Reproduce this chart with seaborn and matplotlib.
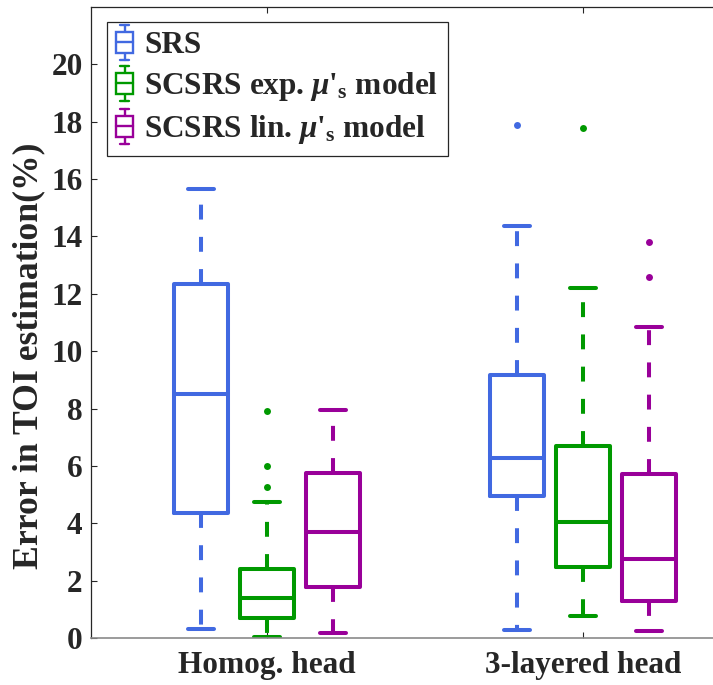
import matplotlib
matplotlib.use("Agg")
import matplotlib.pyplot as plt
import seaborn as sns
from matplotlib.legend_handler import HandlerBase
from matplotlib.lines import Line2D
from matplotlib.patches import Rectangle

# ---- data: summary statistics of the TOI estimation error (%) ----
groups = ["Homog. head", "3-layered head"]
methods = ["SRS",
           r"SCSRS exp. $\mu$'$_{\mathbf{s}}$ model",
           r"SCSRS lin. $\mu$'$_{\mathbf{s}}$ model"]
colors = ["#4169E1", "#009900", "#990099"]

# rows = head model, columns = method (SRS, exp., lin.)
whisker_low = [[0.33, 0.02, 0.19], [0.27, 0.77, 0.23]]
quartile_1 = [[4.37, 0.68, 1.78], [4.96, 2.49, 1.29]]
median = [[8.52, 1.38, 3.70], [6.28, 4.06, 2.74]]
quartile_3 = [[12.33, 2.42, 5.74], [9.18, 6.70, 5.72]]
whisker_high = [[15.67, 4.73, 7.95], [14.35, 12.21, 10.83]]
outliers = [[[], [5.27, 6.01, 7.93], []],
            [[17.88], [17.78], [12.60, 13.79]]]

yticks = [0, 2, 4, 6, 8, 10, 12, 14, 16, 18, 20]

# ---- style ----
sns.set_theme(style="ticks")
plt.rcParams["font.family"] = ["Liberation Serif", "DejaVu Serif"]
plt.rcParams["font.weight"] = "bold"
plt.rcParams["mathtext.fontset"] = "custom"
plt.rcParams["mathtext.rm"] = "Liberation Serif:bold"
plt.rcParams["mathtext.bf"] = "Liberation Serif:bold"
plt.rcParams["mathtext.it"] = "Liberation Serif:italic:bold"

FS = 22.5
INK = "#262626"
LW = 2.9

fig = plt.figure(figsize=(7.13, 6.85), dpi=100)
ax = fig.add_axes([91 / 713, 47 / 685, 622 / 713, 631 / 685])

offsets = [-0.209, 0.0, 0.209]
box_w = 0.171
cap_w = 0.082
dash = (0, (3.7, 4.3))

for g in range(len(groups)):
    for m in range(len(methods)):
        c = colors[m]
        stats = [dict(whislo=whisker_low[g][m], q1=quartile_1[g][m],
                      med=median[g][m], q3=quartile_3[g][m],
                      whishi=whisker_high[g][m], fliers=outliers[g][m])]
        ax.bxp(stats, positions=[g + 1 + offsets[m]], widths=box_w,
               capwidths=cap_w, showfliers=True, manage_ticks=False,
               boxprops=dict(color=c, lw=LW, solid_joinstyle="round"),
               whiskerprops=dict(color=c, lw=LW, linestyle=dash),
               capprops=dict(color=c, lw=LW),
               medianprops=dict(color=c, lw=LW),
               flierprops=dict(marker="o", markerfacecolor=c,
                               markeredgecolor=c, markersize=5,
                               markeredgewidth=0))

ax.set_xlim(1 - 176 / 316, 1 + 446 / 316)
ax.set_ylim(0, 22)
ax.set_xticks([1, 2])
ax.set_xticklabels(groups, fontsize=FS, fontweight="bold", color=INK)
ax.set_yticks(yticks)
ax.set_yticklabels([str(v) for v in yticks], fontsize=FS,
                   fontweight="bold", color=INK)
ax.tick_params(axis="both", direction="in", length=4.5, width=0.8,
               colors=INK, top=True, right=False)
ax.tick_params(axis="y", pad=6)
ax.tick_params(axis="x", pad=9)
ax.set_ylabel("Error in TOI estimation(%)", fontsize=25.7,
              fontweight="bold", color=INK)
ax.yaxis.set_label_coords(-0.074, 0.448)

ax.spines["right"].set_visible(False)
for side in ("left", "top"):
    ax.spines[side].set_color(INK)
    ax.spines[side].set_linewidth(0.9)
ax.spines["bottom"].set_color("#8a8a8a")
ax.spines["bottom"].set_linewidth(1.2)


# ---- legend with small box-plot glyphs ----
class BoxGlyph(HandlerBase):
    def create_artists(self, legend, orig_handle, xdescent, ydescent,
                       width, height, fontsize, trans):
        c = orig_handle.get_color()
        cx = width / 2 - xdescent
        cy = height / 2 - ydescent
        px = 0.72
        lw = 1.7
        half_h, bh, bw, cw = 17.5 * px, 10.5 * px, 8.5 * px, 4.5 * px
        stem = Line2D([cx, cx], [cy - half_h, cy + half_h], color=c,
                      lw=lw, transform=trans)
        top = Line2D([cx - cw, cx + cw], [cy + half_h] * 2, color=c,
                     lw=lw, transform=trans)
        bot = Line2D([cx - cw, cx + cw], [cy - half_h] * 2, color=c,
                     lw=lw, transform=trans)
        box = Rectangle((cx - bw, cy - bh), 2 * bw, 2 * bh, facecolor="white",
                        edgecolor=c, lw=lw, transform=trans)
        med = Line2D([cx - bw, cx + bw], [cy, cy], color=c, lw=lw,
                     transform=trans)
        return [stem, top, bot, box, med]


handles = [Line2D([], [], color=c) for c in colors]
leg = ax.legend(handles, methods, loc="upper left",
                bbox_to_anchor=(107 / 713, 1 - 22 / 685),
                bbox_transform=fig.transFigure, borderaxespad=0,
                handler_map={Line2D: BoxGlyph()},
                prop=dict(family="Liberation Serif", weight="bold", size=FS),
                handlelength=0.54, handletextpad=0.36, labelspacing=0.32,
                borderpad=0.3, fancybox=False, framealpha=1,
                edgecolor=INK)
leg.get_frame().set_linewidth(0.9)

fig.savefig("out.png", dpi=100)
